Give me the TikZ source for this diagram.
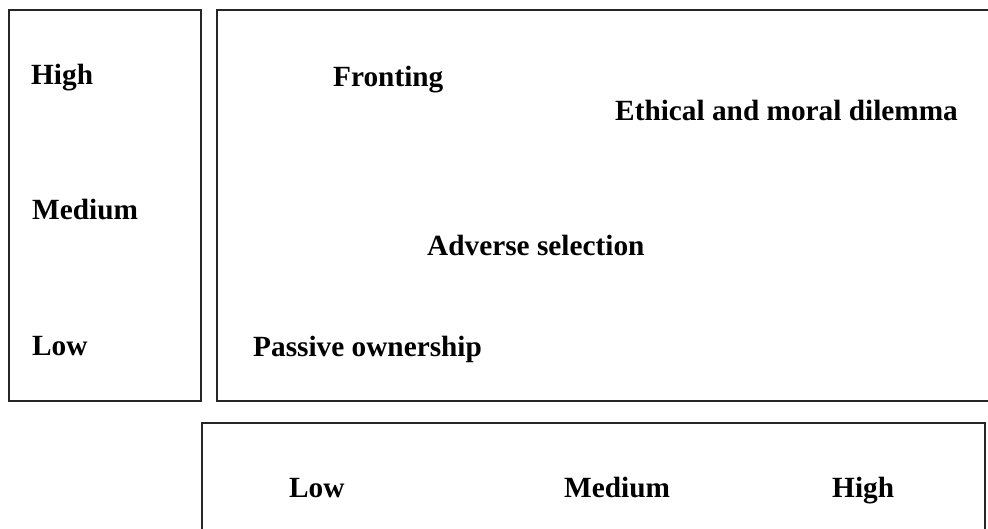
\documentclass[tikz,border=0pt]{standalone}
\usepackage{fontspec}
\setmainfont{Liberation Serif}
\begin{document}
\begin{tikzpicture}[x=1pt,y=-1pt,
  frame/.style={draw=black!85,line width=1.5pt},
  lbl/.style={anchor=base west,inner sep=0pt,font=\fontsize{29.3}{33}\selectfont\bfseries}]
\useasboundingbox (0,0) rectangle (988,528);
\draw[frame] (9,10) rectangle (201,401);
\draw[frame] (217,10) rectangle (1000,401);
\draw[frame] (202,423) rectangle (985,540);
\node[lbl] (yh) at (31,84) {High};
\node[lbl] (ym) at (32,219) {Medium};
\node[lbl] (yl) at (32,355) {Low};
\node[lbl] (fr) at (333,86) {Fronting};
\node[lbl] (em) at (615,120) {Ethical and moral dilemma};
\node[lbl] (as) at (427,255) {Adverse selection};
\node[lbl] (po) at (253,356) {Passive ownership};
\node[lbl] (xl) at (289,497) {Low};
\node[lbl] (xm) at (564,497) {Medium};
\node[lbl] (xh) at (832,497) {High};
\end{tikzpicture}
\end{document}
